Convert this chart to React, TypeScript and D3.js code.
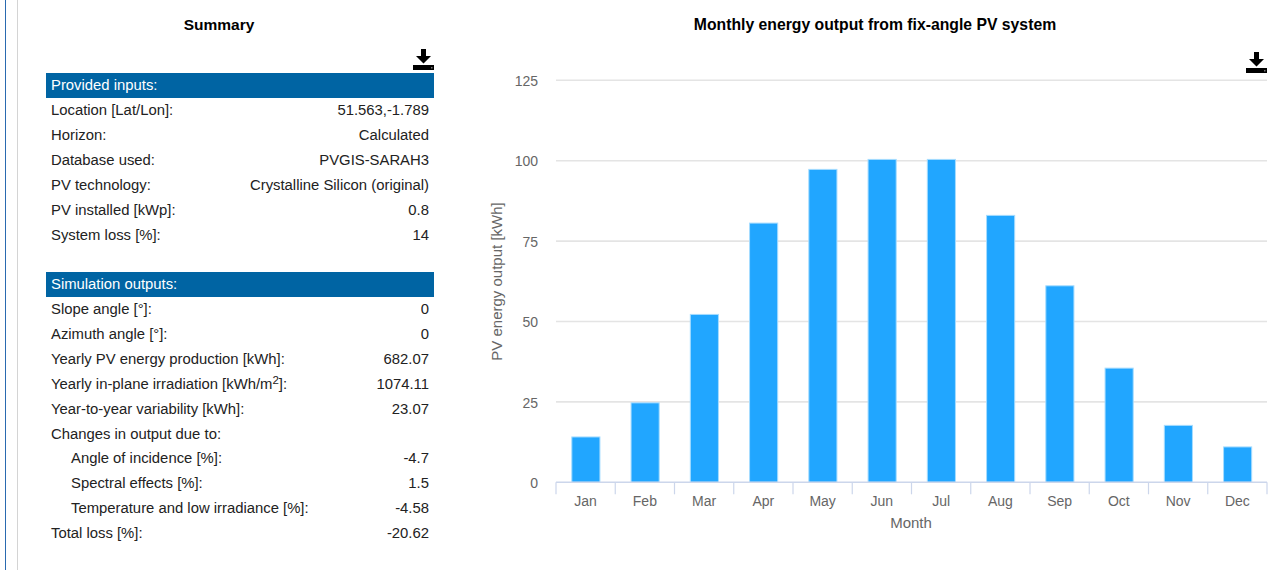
import * as d3 from "d3";

const months = ["Jan", "Feb", "Mar", "Apr", "May", "Jun", "Jul", "Aug", "Sep", "Oct", "Nov", "Dec"];
const output = [14.1, 24.7, 52.2, 80.6, 97.3, 100.4, 100.4, 83.0, 61.1, 35.5, 17.7, 11.0];
const yTicks = [0, 25, 50, 75, 100, 125];

const inputLabels = [
  "Location [Lat/Lon]:",
  "Horizon:",
  "Database used:",
  "PV technology:",
  "PV installed [kWp]:",
  "System loss [%]:",
];
const inputValues = ["51.563,-1.789", "Calculated", "PVGIS-SARAH3", "Crystalline Silicon (original)", "0.8", "14"];

const outputLabels = [
  "Slope angle [°]:",
  "Azimuth angle [°]:",
  "Yearly PV energy production [kWh]:",
  "Yearly in-plane irradiation [kWh/m|2|]:",
  "Year-to-year variability [kWh]:",
  "Changes in output due to:",
  "Angle of incidence [%]:",
  "Spectral effects [%]:",
  "Temperature and low irradiance [%]:",
  "Total loss [%]:",
];
const outputValues = ["0", "0", "682.07", "1074.11", "23.07", "", "-4.7", "1.5", "-4.58", "-20.62"];
const indentedRows = [6, 7, 8];

const FONT = "'Liberation Sans', Arial, sans-serif";
const width = 1281;
const height = 570;
const plot = { left: 556, right: 1267, top: 80.3, bottom: 482.3 };
const table = { left: 46, right: 434, textLeft: 51, textRight: 429, rowH: 24.9 };
const tableFont = 14.85;

function DownloadIcon({ x, y }: { x: number; y: number }) {
  return (
    <g transform={`translate(${x},${y})`}>
      <path d="M8 0h5v7h5l-7.5 7.5L3 7h5z" fill="#000" />
      <rect x={0} y={16} width={21} height={5} fill="#000" />
      <rect x={18} y={18} width={1.5} height={1.5} fill="#777" />
    </g>
  );
}

function Label({ text, x, y }: { text: string; x: number; y: number }) {
  const [before, sup, after] = text.split("|");
  return (
    <text x={x} y={y} fontSize={tableFont} fill="#222">
      {before}
      {sup && (
        <tspan fontSize={11.5} dy={-5}>
          {sup}
        </tspan>
      )}
      {after && <tspan dy={5}>{after}</tspan>}
    </text>
  );
}

function Section({
  title,
  top,
  firstRow,
  labels,
  values,
  indented = [],
}: {
  title: string;
  top: number;
  firstRow: number;
  labels: string[];
  values: string[];
  indented?: number[];
}) {
  return (
    <g>
      <rect x={table.left} y={top} width={table.right - table.left} height={25} fill="#0064a3" />
      <text x={table.textLeft} y={top + 17} fontSize={tableFont} fill="#fff">
        {title}
      </text>
      {labels.map((label, i) => {
        const y = firstRow + i * table.rowH;
        return (
          <g key={label}>
            <Label text={label} x={table.textLeft + (indented.includes(i) ? 20 : 0)} y={y} />
            <text x={table.textRight} y={y} fontSize={tableFont} fill="#222" textAnchor="end">
              {values[i]}
            </text>
          </g>
        );
      })}
    </g>
  );
}

export default function App() {
  const x = d3
    .scaleBand<string>()
    .domain(months)
    .range([plot.left, plot.right])
    .paddingInner(0.5)
    .paddingOuter(0.25);
  const y = d3.scaleLinear().domain([0, 125]).range([plot.bottom, plot.top]);
  const step = x.step();

  return (
    <svg
      width={width}
      height={height}
      viewBox={`0 0 ${width} ${height}`}
      style={{ position: "absolute", left: 0, top: 0, fontFamily: FONT }}
    >
      <rect width={width} height={height} fill="#fff" />
      {/* Page edge lines */}
      <line x1={5.5} y1={0} x2={5.5} y2={height} stroke="#2a6ab0" strokeWidth={1} />
      <line x1={17.5} y1={0} x2={17.5} y2={height} stroke="#d4d4d4" strokeWidth={1} />

      {/* Summary table */}
      <text x={219} y={30} textAnchor="middle" fontSize={15.5} fontWeight={700} fill="#000">
        Summary
      </text>
      <DownloadIcon x={413} y={49} />
      <Section title="Provided inputs:" top={73} firstRow={115} labels={inputLabels} values={inputValues} />
      <Section
        title="Simulation outputs:"
        top={272}
        firstRow={314}
        labels={outputLabels}
        values={outputValues}
        indented={indentedRows}
      />

      {/* Chart */}
      <text x={875} y={30} textAnchor="middle" fontSize={15.75} fontWeight={700} fill="#000">
        Monthly energy output from fix-angle PV system
      </text>

      {yTicks.map((t) => (
        <g key={t}>
          {t > 0 && (
            <line x1={plot.left} x2={plot.right} y1={y(t)} y2={y(t)} stroke="#e4e4e4" strokeWidth={1.6} />
          )}
          <text x={538} y={y(t) + 5.7} textAnchor="end" fontSize={14} fill="#666">
            {t}
          </text>
        </g>
      ))}

      {months.map((m, i) => (
        <rect
          key={m}
          x={(x(m) as number) + 1}
          y={y(output[i])}
          width={x.bandwidth() - 1.5}
          height={plot.bottom - y(output[i])}
          fill="#21a6ff"
          stroke="#a6dcff"
          strokeWidth={1}
        />
      ))}

      <line x1={plot.left} x2={plot.right} y1={plot.bottom} y2={plot.bottom} stroke="#ccd6eb" strokeWidth={1.5} />
      {d3.range(months.length + 1).map((i) => (
        <line
          key={i}
          x1={plot.left + i * step}
          x2={plot.left + i * step}
          y1={plot.bottom}
          y2={plot.bottom + 12}
          stroke="#ccd6eb"
          strokeWidth={1.2}
        />
      ))}
      {months.map((m) => (
        <text key={m} x={(x(m) as number) + x.bandwidth() / 2} y={506} textAnchor="middle" fontSize={14} fill="#666">
          {m}
        </text>
      ))}

      <text x={911} y={528} textAnchor="middle" fontSize={15} fill="#666">
        Month
      </text>
      <text transform={`translate(502,281.5) rotate(-90)`} textAnchor="middle" fontSize={15} fill="#666">
        PV energy output [kWh]
      </text>

      <DownloadIcon x={1246} y={52} />
    </svg>
  );
}
